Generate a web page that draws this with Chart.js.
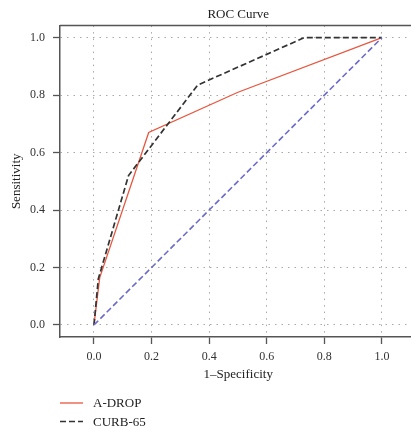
<!DOCTYPE html>
<html>
<head>
<meta charset="utf-8">
<script src="https://cdn.jsdelivr.net/npm/chart.js@4"></script>
<style>
  html, body { margin: 0; padding: 0; background: #fff; overflow: hidden; }
  #wrap { width: 430px; height: 429px; }
</style>
</head>
<body>
<div id="wrap"><canvas id="rocChart" width="430" height="429"></canvas></div>
<script>
// --- data ---
const adropFpr = [0, 0.02, 0.19, 0.5, 1];
const adropTpr = [0, 0.165, 0.67, 0.81, 1];
const curbFpr = [0, 0.015, 0.12, 0.36, 0.73, 1];
const curbTpr = [0, 0.16, 0.52, 0.835, 1, 1];
const refFpr = [0, 1];
const refTpr = [0, 1];
const tickValues = [0, 0.2, 0.4, 0.6, 0.8, 1];
const seriesNames = ["A-DROP", "CURB-65"];

const serif = "'Liberation Serif', 'DejaVu Serif', serif";
const frameColor = "#555";

function toPoints(xs, ys) {
    return xs.map((x, i) => ({ x: x, y: ys[i] }));
}

// top edge of the frame + vertical legend under the plot
const framePlugin = {
    id: 'framePlugin',
    afterDraw(chart) {
        const { ctx, chartArea: a } = chart;
        ctx.save();
        ctx.strokeStyle = frameColor;
        ctx.lineWidth = 1.5;
        ctx.beginPath();
        ctx.moveTo(a.left, a.top);
        ctx.lineTo(a.right, a.top);
        ctx.stroke();

        // legend, in the order of seriesNames
        ctx.font = "13px " + serif;
        ctx.textBaseline = 'middle';
        ctx.fillStyle = "#222";
        seriesNames.forEach((name, i) => {
            const d = chart.data.datasets.find(ds => ds.label === name);
            const y = 403 + i * 18.5;
            ctx.beginPath();
            ctx.strokeStyle = d.borderColor;
            ctx.lineWidth = d.borderWidth;
            ctx.setLineDash(d.borderDash || []);
            ctx.moveTo(60, y);
            ctx.lineTo(83, y);
            ctx.stroke();
            ctx.setLineDash([]);
            ctx.fillText(name, 93, y + 1);
        });
        ctx.restore();
    }
};

const ctx = document.getElementById('rocChart').getContext('2d');

new Chart(ctx, {
    type: 'scatter',
    data: {
        datasets: [
            {
                label: '',
                data: toPoints(refFpr, refTpr),
                showLine: true,
                borderColor: "#6b6bcc",
                borderWidth: 1.6,
                borderDash: [6, 3],
                pointRadius: 0
            },
            {
                label: seriesNames[1],
                data: toPoints(curbFpr, curbTpr),
                showLine: true,
                borderColor: "#333333",
                borderWidth: 1.7,
                borderDash: [6, 3],
                pointRadius: 0
            },
            {
                label: seriesNames[0],
                data: toPoints(adropFpr, adropTpr),
                showLine: true,
                borderColor: "#e8563f",
                borderWidth: 1.3,
                pointRadius: 0
            }
        ]
    },
    options: {
        responsive: false,
        animation: false,
        devicePixelRatio: 1,
        layout: { padding: { left: 0, right: 13.5, top: 0, bottom: 45 } },
        plugins: {
            legend: { display: false },
            tooltip: { enabled: false },
            title: {
                display: true,
                text: "ROC Curve",
                fullSize: false,
                color: "#222",
                font: { family: serif, size: 13, weight: 'normal' },
                padding: { top: 7, bottom: 3 }
            }
        },
        scales: {
            x: {
                type: 'linear',
                min: -0.118,
                max: 1.12,
                afterBuildTicks: s => { s.ticks = tickValues.map(v => ({ value: v })); },
                afterFit: s => { s.height = 47; },
                ticks: {
                    color: "#333",
                    font: { family: serif, size: 12 },
                    padding: 6,
                    maxRotation: 0,
                    callback: v => Number(v).toFixed(1)
                },
                grid: {
                    color: "#a8a8a8",
                    lineWidth: 1,
                    drawTicks: true,
                    tickLength: 7,
                    tickColor: frameColor,
                    tickWidth: 1.3
                },
                border: { display: true, color: frameColor, width: 1.5, dash: [1.5, 5] },
                title: {
                    display: true,
                    text: "1\u2013Specificity",
                    color: "#222",
                    font: { family: serif, size: 13 },
                    padding: { top: 0, bottom: 2 }
                }
            },
            y: {
                type: 'linear',
                min: -0.042,
                max: 1.042,
                afterBuildTicks: s => { s.ticks = tickValues.map(v => ({ value: v })); },
                afterFit: s => { s.width = 60; },
                ticks: {
                    color: "#333",
                    font: { family: serif, size: 12 },
                    padding: 8,
                    callback: v => Number(v).toFixed(1)
                },
                grid: {
                    color: "#a8a8a8",
                    lineWidth: 1,
                    drawTicks: true,
                    tickLength: 7,
                    tickColor: frameColor,
                    tickWidth: 1.3
                },
                border: { display: true, color: frameColor, width: 1.5, dash: [1.5, 5] },
                title: {
                    display: true,
                    text: "Sensitivity",
                    color: "#222",
                    font: { family: serif, size: 13 },
                    padding: { top: 9, bottom: 0 }
                }
            }
        }
    },
    plugins: [framePlugin]
});
</script>
</body>
</html>
